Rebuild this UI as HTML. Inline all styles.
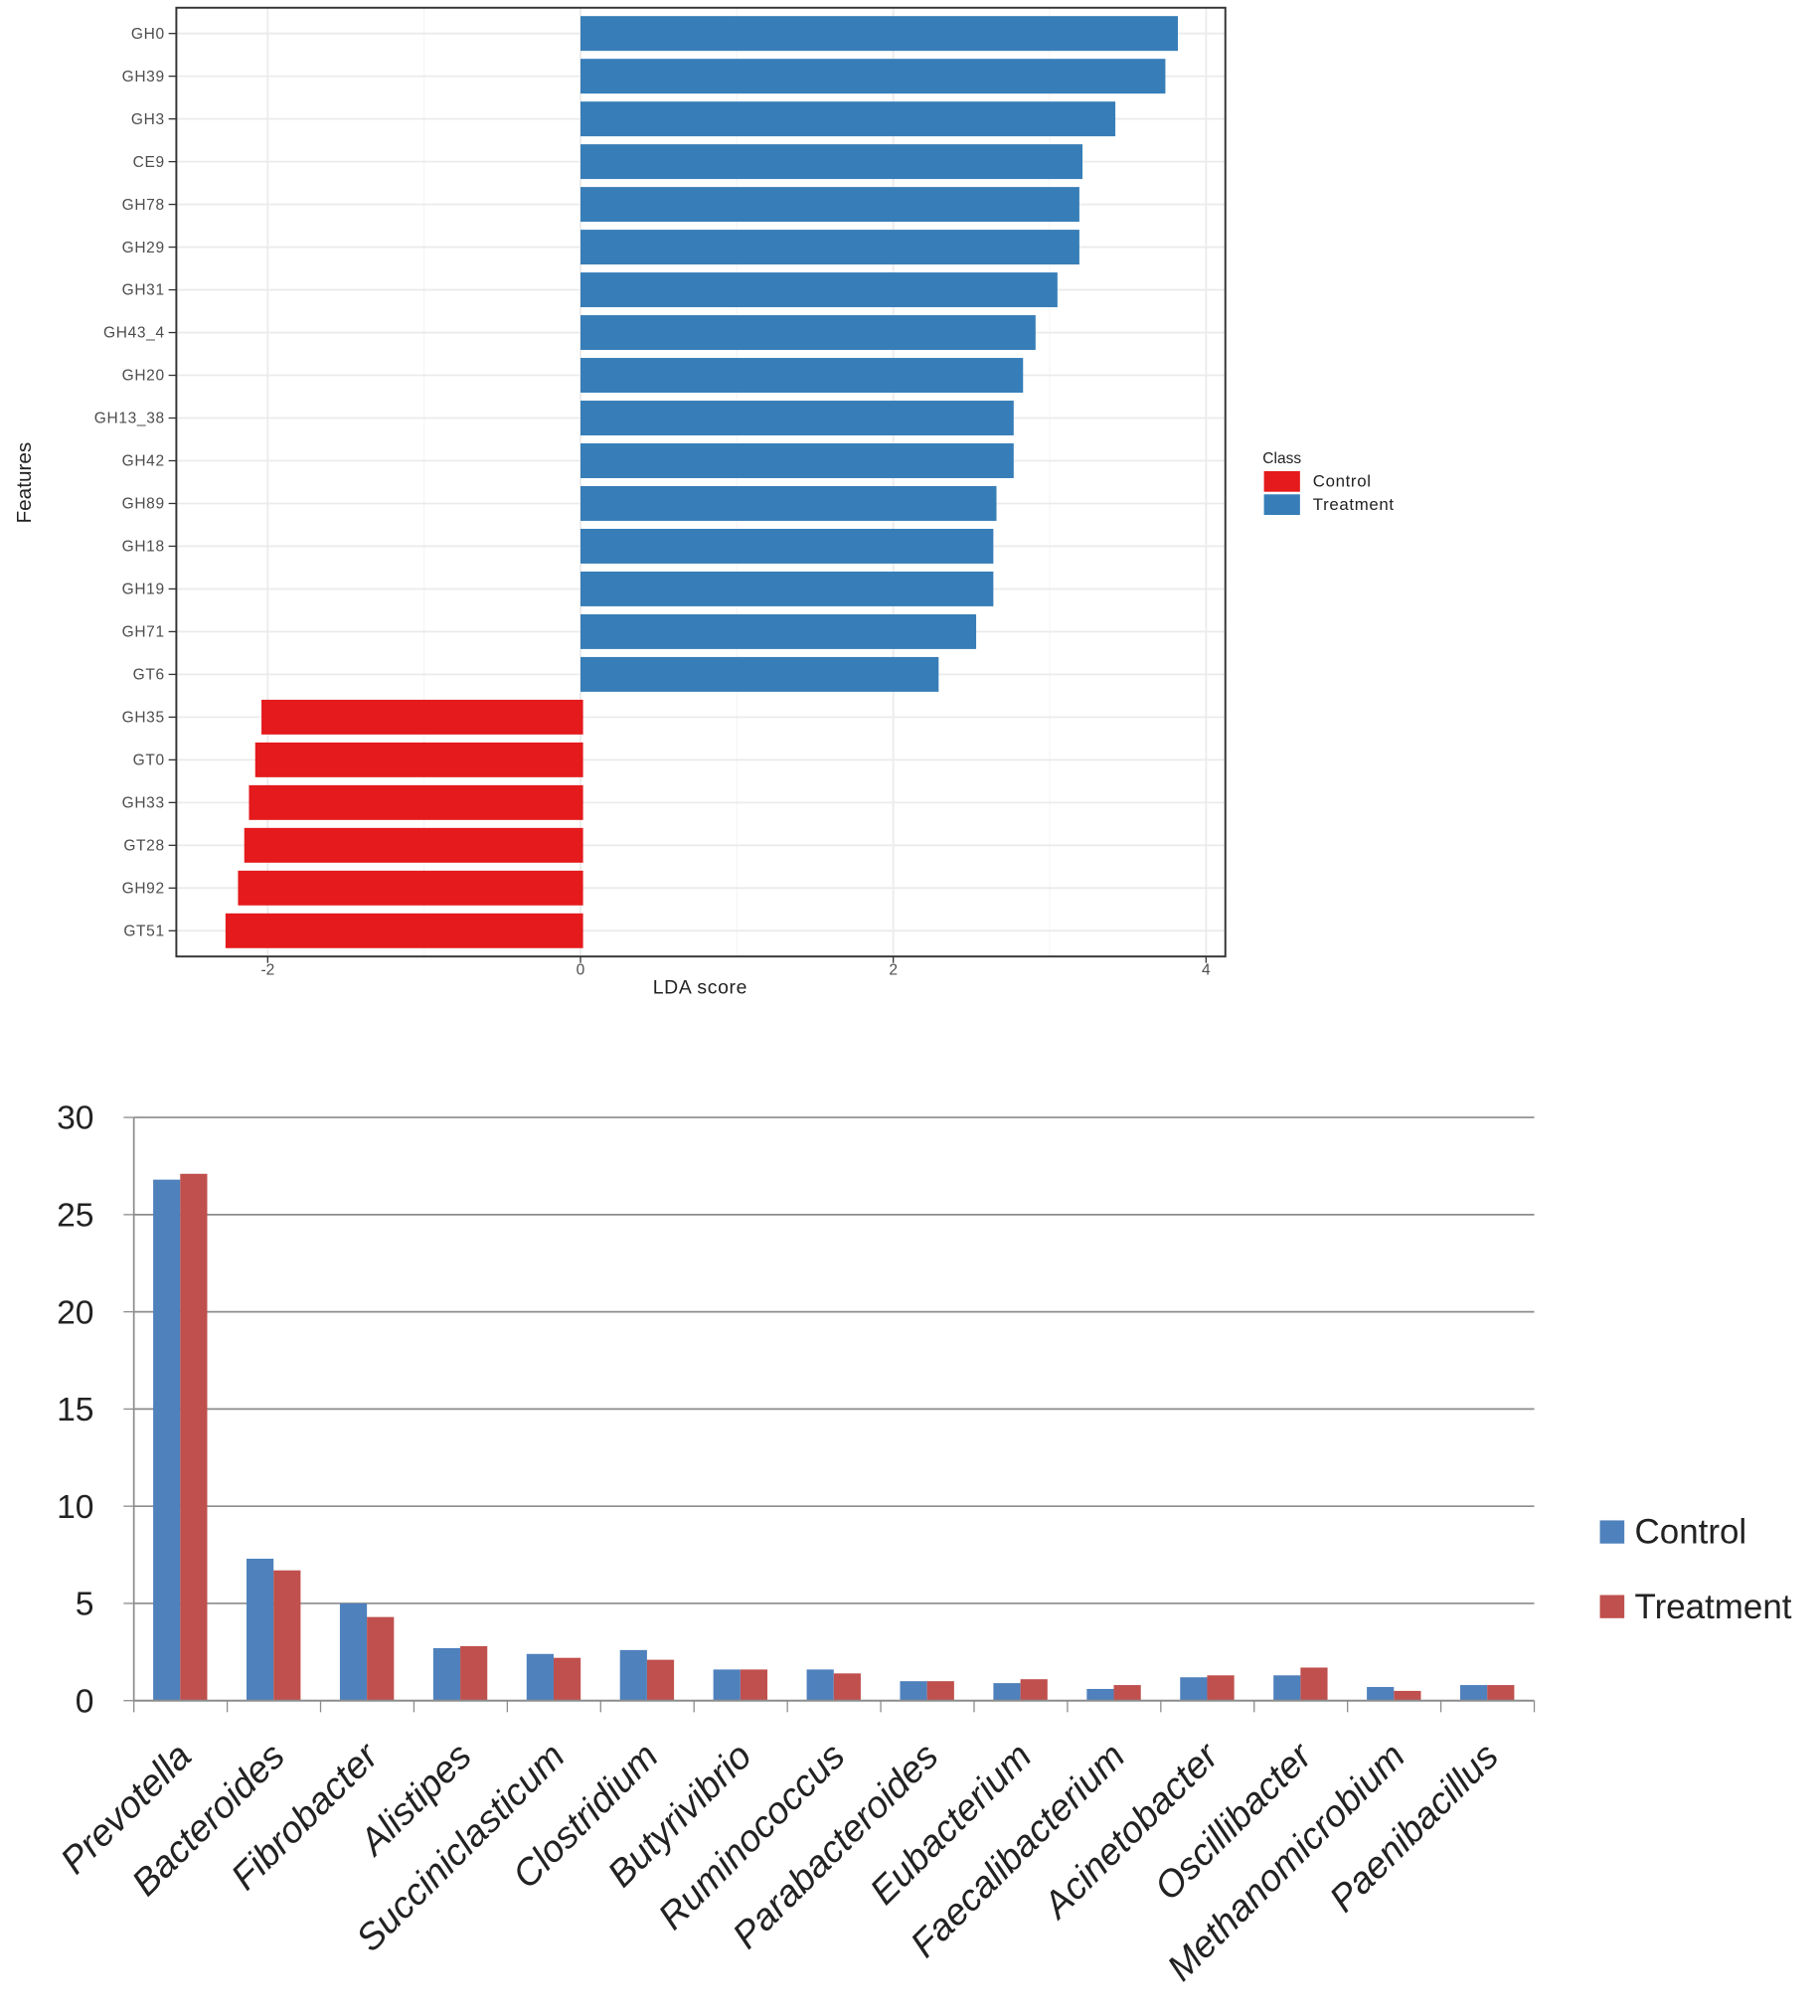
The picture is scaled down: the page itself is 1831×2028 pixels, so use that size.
<!DOCTYPE html>
<html><head><meta charset="utf-8"><style>
html,body{margin:0;padding:0;background:#fff;}
svg{display:block;}
</style></head><body>
<svg id="chart" width="1831" height="2028" viewBox="0 0 1414 1566" preserveAspectRatio="none" xmlns="http://www.w3.org/2000/svg" font-family="Liberation Sans, sans-serif">
<g id="topchart"></g>
<g id="bottomchart"></g>
</svg>
<script>
const ldaFeatures=["GH0","GH39","GH3","CE9","GH78","GH29","GH31","GH43_4","GH20","GH13_38","GH42","GH89","GH18","GH19","GH71","GT6","GH35","GT0","GH33","GT28","GH92","GT51"];
const ldaScores=[3.82,3.74,3.42,3.21,3.19,3.19,3.05,2.91,2.83,2.77,2.77,2.66,2.64,2.64,2.53,2.29,-2.04,-2.08,-2.12,-2.15,-2.19,-2.27];
const ldaTicks=[-2,0,2,4];
const genera=["Prevotella","Bacteroides","Fibrobacter","Alistipes","Succiniclasticum","Clostridium","Butyrivibrio","Ruminococcus","Parabacteroides","Eubacterium","Faecalibacterium","Acinetobacter","Oscillibacter","Methanomicrobium","Paenibacillus"];
const controlVals=[26.8,7.3,5.0,2.7,2.4,2.6,1.6,1.6,1.0,0.9,0.6,1.2,1.3,0.7,0.8];
const treatmentVals=[27.1,6.7,4.3,2.8,2.2,2.1,1.6,1.4,1.0,1.1,0.8,1.3,1.7,0.5,0.8];
const yTicks=[0,5,10,15,20,25,30];

const NS="http://www.w3.org/2000/svg";
function mk(parent,tag,attrs,text){const e=document.createElementNS(NS,tag);for(const k in attrs)e.setAttribute(k,attrs[k]);if(text!==undefined)e.textContent=text;parent.appendChild(e);return e;}

// ---- top chart
const topG=document.getElementById('topchart');
const X=v=>451+v*121.5;
const Yc=i=>26+i*((723-26)/21);
mk(topG,'rect',{x:137,y:6,width:815,height:737,fill:'#fff'});
for(let v=-2;v<=4;v+=1){const l=mk(topG,'line',{x1:X(v),x2:X(v),y1:6,y2:743,stroke:v%2===0?'#ebebeb':'#f4f4f4','stroke-width':v%2===0?1.4:0.8});}
ldaFeatures.forEach((f,i)=>{const l=mk(topG,'line',{x1:137,x2:952,y1:Yc(i),y2:Yc(i),stroke:'#ebebeb','stroke-width':1.4});});
ldaFeatures.forEach((f,i)=>{
  const v=ldaScores[i];const x0=v>=0?X(0):X(v);const x1=v>=0?X(v):X(0)+2;
  const r=mk(topG,'rect',{x:x0,y:Yc(i)-13.5,width:x1-x0,height:27,fill:v>=0?'#377EB8':'#E41A1C'});
  
  
  const t=mk(topG,'text',{x:128,y:Yc(i)+4,'text-anchor':'end','font-size':12,fill:'#4d4d4d','letter-spacing':0.5},f);
  
  
  mk(topG,'line',{x1:131,x2:137,y1:Yc(i),y2:Yc(i),stroke:'#333','stroke-width':1});
});
mk(topG,'rect',{x:137,y:6,width:815,height:737,fill:'none',stroke:'#333','stroke-width':1.5});
ldaTicks.forEach(v=>{mk(topG,'line',{x1:X(v),x2:X(v),y1:743,y2:748,stroke:'#333'});const t=mk(topG,'text',{x:X(v),y:757,'text-anchor':'middle','font-size':12,fill:'#4d4d4d'},String(v));});
let t=mk(topG,'text',{x:544,y:772,'text-anchor':'middle','font-size':15,fill:'#222','letter-spacing':0.5},'LDA score');
t=mk(topG,'text',{x:0,y:0,transform:'translate(24,375) rotate(-90)','text-anchor':'middle','font-size':16,fill:'#222'},'Features');
t=mk(topG,'text',{x:981,y:360,'font-size':12,fill:'#222'},'Class');
let g=mk(topG,'g',{});
mk(g,'rect',{x:982,y:366,width:28,height:16,fill:'#E41A1C'});mk(g,'text',{x:1020,y:378,'font-size':13,fill:'#222','letter-spacing':0.5},'Control');
g=mk(topG,'g',{});
mk(g,'rect',{x:982,y:384,width:28,height:16,fill:'#377EB8'});mk(g,'text',{x:1020,y:396,'font-size':13,fill:'#222','letter-spacing':0.5},'Treatment');

// ---- bottom chart
const bot=document.getElementById('bottomchart');
const L=104,R=1192,Y0=1321,Y30=868;
const Y=v=>Y0-(Y0-Y30)*v/30;
const slot=(R-L)/genera.length;
yTicks.forEach(v=>{
  if(v>0){const l=mk(bot,'line',{x1:L,x2:R,y1:Y(v),y2:Y(v),stroke:'#8c8c8c','stroke-width':1.3});}
  mk(bot,'line',{x1:L-8,x2:L,y1:Y(v),y2:Y(v),stroke:'#8c8c8c'});
  const tt=mk(bot,'text',{x:73,y:Y(v)+9,'text-anchor':'end','font-size':26,fill:'#222'},String(v));
  
});
mk(bot,'line',{x1:L,x2:L,y1:Y30,y2:Y0,stroke:'#8c8c8c','stroke-width':1.3});
genera.forEach((gname,i)=>{
  const sx=L+i*slot;
  const bw=21;
  let r=mk(bot,'rect',{x:sx+15,y:Y(controlVals[i]),width:bw,height:Y0-Y(controlVals[i]),fill:'#4F81BD'});
  
  r=mk(bot,'rect',{x:sx+15+bw,y:Y(treatmentVals[i]),width:bw,height:Y0-Y(treatmentVals[i]),fill:'#C0504D'});
  
  mk(bot,'line',{x1:sx+slot,x2:sx+slot,y1:Y0,y2:Y0+9,stroke:'#8c8c8c'});
  const cx=sx+slot/2+10;
  const tt=mk(bot,'text',{x:0,y:0,transform:`translate(${cx},1366) rotate(-45)`,'text-anchor':'end','font-size':29,'font-style':'italic',fill:'#222'},gname);
  
});
mk(bot,'line',{x1:L,x2:L,y1:Y0,y2:Y0+9,stroke:'#8c8c8c'});
mk(bot,'line',{x1:L,x2:R,y1:Y0,y2:Y0,stroke:'#8c8c8c','stroke-width':1.5});
g=mk(bot,'g',{});
mk(g,'rect',{x:1243,y:1181,width:19,height:18,fill:'#4F81BD'});mk(g,'text',{x:1270,y:1199,'font-size':27,fill:'#222'},'Control');
g=mk(bot,'g',{});
mk(g,'rect',{x:1243,y:1239,width:19,height:18,fill:'#C0504D'});mk(g,'text',{x:1270,y:1257,'font-size':27,fill:'#222'},'Treatment');
</script>
</body></html>
